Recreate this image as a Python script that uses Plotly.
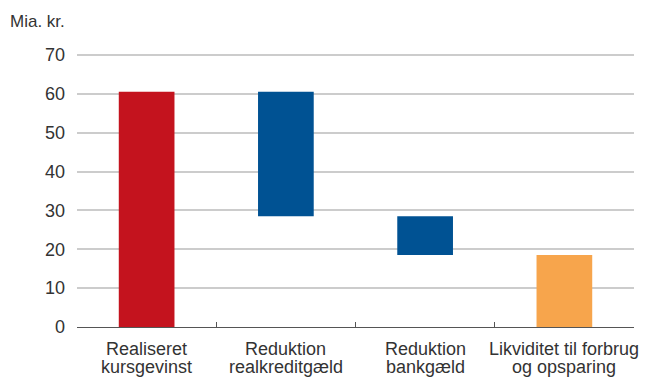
import plotly.graph_objects as go

# Categories (two text lines each) and amounts in billions of DKK
line1 = ["Realiseret", "Reduktion", "Reduktion", "Likviditet til forbrug"]
line2 = ["kursgevinst", "realkreditgæld", "bankgæld", "og opsparing"]
categories = [a + " " + b for a, b in zip(line1, line2)]

gain = 60.5
reductions = [32.0, 10.0]          # realkreditgæld, bankgæld
remaining = 18.5                   # likviditet til forbrug og opsparing

colors = ["#C4131E", "#005293", "#005293", "#F7A54C"]
yticks = [0, 10, 20, 30, 40, 50, 60, 70]

# Waterfall built from floating bars: each reduction hangs from the running total
heights = [gain] + reductions + [remaining]
bases = [0]
running = gain
for r in reductions:
    running -= r
    bases.append(running)
bases.append(0)

FONT = "Liberation Sans, Arial, sans-serif"
TXT = "#333333"
SIZE = 18

fig = go.Figure(
    go.Bar(
        x=categories,
        y=heights,
        base=bases,
        marker=dict(color=colors, line=dict(width=0)),
        width=0.4,
        hoverinfo="skip",
    )
)

annotations = []
for cat, a, b in zip(categories, line1, line2):
    annotations.append(dict(
        x=cat, xref="x", y=0, yref="paper", text=a, showarrow=False,
        xanchor="center", yanchor="top", yshift=-10,
        font=dict(family=FONT, size=SIZE, color=TXT),
    ))
    annotations.append(dict(
        x=cat, xref="x", y=0, yref="paper", text=b, showarrow=False,
        xanchor="center", yanchor="top", yshift=-28,
        font=dict(family=FONT, size=SIZE, color=TXT),
    ))
annotations.append(dict(
    x=0, xref="paper", y=1, yref="paper", text="Mia. kr.", showarrow=False,
    xanchor="left", yanchor="bottom", xshift=-69, yshift=20,
    font=dict(family=FONT, size=17, color=TXT),
))

fig.update_layout(
    width=647,
    height=378,
    margin=dict(l=77, r=13, t=53, b=51),
    paper_bgcolor="white",
    plot_bgcolor="white",
    showlegend=False,
    annotations=annotations,
    font=dict(family=FONT, size=SIZE, color=TXT),
)
fig.update_xaxes(
    type="category",
    showticklabels=False,
    showline=True, linecolor="#555555", linewidth=1,
    ticks="inside", tickson="boundaries", ticklen=5, tickcolor="#555555", tickwidth=1,
    showgrid=False,
    range=[-0.5, 3.5],
)
fig.update_yaxes(
    range=[0, 70.5],
    tickvals=yticks,
    showgrid=True, gridcolor="#CCCCCC", gridwidth=1.5,
    zeroline=False,
    showline=False,
    ticks="",
    ticklabelstandoff=11,
    tickfont=dict(family=FONT, size=SIZE, color=TXT),
)

fig.write_html("out.html")
